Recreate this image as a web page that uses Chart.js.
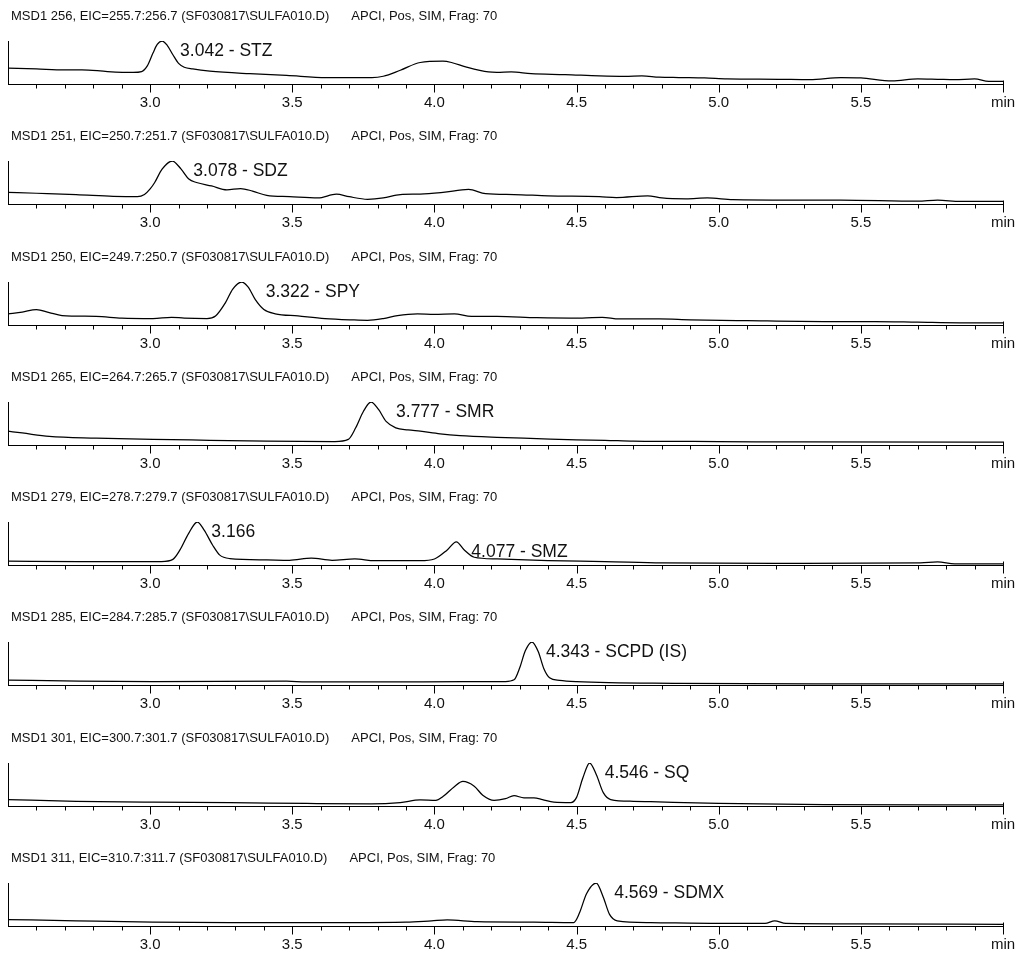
<!DOCTYPE html>
<html>
<head>
<meta charset="utf-8">
<title>SIM extracted ion chromatograms - sulfonamides</title>
<script src="https://cdn.jsdelivr.net/npm/chart.js@4.4.1/dist/chart.umd.min.js"></script>
<style>
  html, body { margin: 0; padding: 0; background: #fff; overflow: hidden; }
  #stack { position: relative; width: 1019px; height: 962px; }
  .trace { position: absolute; left: 0; width: 1019px; height: 122px; }
</style>
</head>
<body>
<div id="stack"></div>
<script>
// ---- run / axis description ----
const runFile = 'SF030817\\SULFA010.D';
const acqInfo = 'APCI, Pos, SIM, Frag: 70';
const ionMz = [256, 251, 250, 265, 279, 285, 301, 311];
const timeMin = 2.5;
const timeMax = 6.0;
const tickStep = 0.1;
const majorTimes = [3.0, 3.5, 4.0, 4.5, 5.0, 5.5];
const timeUnit = 'min';

// ---- extracted ion traces: retention time (min) / signal (% of full scale) ----
const stzTime = [2.50,2.60,2.70,2.76,2.85,2.94,2.97,2.99,3.01,3.025,3.042,3.06,3.08,3.10,3.12,3.15,3.21,3.35,3.48,3.62,3.78,3.82,3.88,3.95,4.03,4.06,4.11,4.19,4.22,4.27,4.34,4.46,4.58,4.67,4.73,4.79,4.86,4.95,5.03,5.21,5.32,5.43,5.50,5.61,5.70,5.77,5.83,5.90,5.95,6.00];
const stzSignal = [37,35,33,33,29,27,29,42,72,92,100,90,68,48,39,35,30,24,20,15,15,18,32,50,53,50,40,28,27,28,24,22,19,18,19,16,15,14,12,11,10,15,14,7,12,11,10,12,6,6];

const sdzTime = [2.50,2.60,2.74,2.87,2.955,2.98,3.00,3.016,3.042,3.078,3.109,3.136,3.163,3.216,3.27,3.318,3.36,3.41,3.49,3.59,3.655,3.70,3.765,3.82,3.88,3.95,4.03,4.12,4.18,4.28,4.40,4.58,4.64,4.75,4.80,4.885,4.96,5.05,5.25,5.43,5.70,5.77,5.85,6.00];
const sdzSignal = [27,25,22,18,17,22,35,50,81,100,81,58,50,42,33,36,30,20,17,14,23,17,11,14,22,23,27,34,24,22,19,17,15,19,14,12,14,10,9,9,6.5,9,6,6];

const spyTime = [2.50,2.55,2.60,2.645,2.69,2.81,2.90,3.01,3.075,3.12,3.20,3.23,3.265,3.29,3.322,3.345,3.37,3.40,3.44,3.52,3.615,3.71,3.765,3.82,3.87,3.94,4.00,4.07,4.13,4.22,4.36,4.52,4.59,4.65,4.79,4.90,5.10,5.37,5.55,5.70,5.85,6.00];
const spySignal = [26,30,36,29,22,20,16,15,18,16,15,21,52,83,100,88,59,36,26,21,15,12,11,15,22,26,25,26,20,20,17,16,18,14,14,12,10,8,8,6.5,5,5];

const smrTime = [2.50,2.55,2.645,2.81,3.01,3.21,3.41,3.65,3.697,3.723,3.75,3.777,3.804,3.83,3.864,3.907,3.95,4.02,4.09,4.22,4.36,4.50,4.60,4.70,5.00,5.30,6.00];
const smrSignal = [32,28,20,16,13,11,9,8,13,40,78,100,82,55,40,35,32,26,22,18,15,12,11,9,8,7,6.5];

const smzTime = [2.50,2.75,3.04,3.08,3.105,3.135,3.166,3.19,3.22,3.245,3.28,3.41,3.49,3.567,3.64,3.72,3.79,3.95,4.00,4.045,4.077,4.105,4.14,4.22,4.40,4.60,4.80,5.30,5.71,5.77,5.83,6.00];
const smzSignal = [9,8,8,13,35,73,100,81,46,23,15,12,11,16,11,14,10,10,14,35,54,35,18,14,10,8,5,4,5,7,2.5,2.5];

const scpdTime = [2.50,2.75,3.01,3.48,3.55,3.82,4.10,4.25,4.28,4.30,4.32,4.343,4.365,4.385,4.405,4.44,4.50,4.86,5.37,6.00];
const scpdSignal = [11.5,9,8,9,7,7,8,8,12,40,80,100,78,38,17,11,8,4,2.5,2.5];

const sqTime = [2.50,2.74,3.01,3.28,3.55,3.777,3.88,3.95,4.005,4.03,4.07,4.10,4.14,4.17,4.21,4.25,4.28,4.315,4.35,4.38,4.42,4.48,4.50,4.522,4.546,4.57,4.594,4.62,4.70,4.76,5.00,5.37,6.00];
const sqSignal = [15,11,9,8,6,5,8,14,13,22,45,57,46,25,13,17,24,19,19,15,9,8,20,65,100,72,31,15,11,10,6,3,2.5];

const sdmxTime = [2.50,2.74,3.01,3.28,3.70,3.90,3.99,4.045,4.15,4.35,4.49,4.51,4.535,4.569,4.594,4.616,4.643,4.76,5.00,5.163,5.197,5.236,5.50,6.00];
const sdmxSignal = [15,12,9,8,8,9,12,14,10,9,8,30,75,100,67,27,12,8,6,6,12,6,5,4];

// ---- integrated peaks per trace ----
const peakTimes = [[3.042], [3.078], [3.322], [3.777], [3.166, 4.077], [4.343], [4.546], [4.569]];
const peakNames = [['STZ'], ['SDZ'], ['SPY'], ['SMR'], [null, 'SMZ'], ['SCPD (IS)'], ['SQ'], ['SDMX']];

// ---- layout ----
const traceTimes = [stzTime, sdzTime, spyTime, smrTime, smzTime, scpdTime, sqTime, sdmxTime];
const traceSignals = [stzSignal, sdzSignal, spySignal, smrSignal, smzSignal, scpdSignal, sqSignal, sdmxSignal];
const labelGap = [[18], [21], [24], [25], [14, 15], [14], [15], [18]];   // px right of apex
const panelPitch = 120.25;
const FONT = '"Liberation Sans", Arial, Helvetica, sans-serif';
const INK = '#111';

const near = (a, b) => Math.abs(a - b) < 1e-6;
const isMajor = v => majorTimes.some(m => near(m, v));

// tick marks, header line and peak annotations
const chromOverlay = {
  id: 'chromOverlay',
  afterDraw(chart, args, opts) {
    const { ctx, scales: { x, y } } = chart;
    const axisY = Math.round(x.top) + 0.5;
    ctx.save();
    ctx.strokeStyle = '#000';
    ctx.lineWidth = 1;
    ctx.beginPath();
    x.ticks.forEach(t => {
      const v = t.value;
      if (v <= timeMin + 1e-6) return;
      const px = Math.round(x.getPixelForValue(v)) + 0.5;
      const last = v >= timeMax - 1e-6;
      const long = last || isMajor(v);
      ctx.moveTo(px, last ? axisY - 4 : axisY);
      ctx.lineTo(px, axisY + (long ? 8 : 4));
    });
    ctx.stroke();

    ctx.fillStyle = INK;
    ctx.textAlign = 'left';
    ctx.textBaseline = 'alphabetic';
    ctx.font = `13px ${FONT}`;
    ctx.fillText(opts.header, 11, 20);
    const w = ctx.measureText(opts.header).width;
    ctx.fillText(acqInfo, 11 + w + 22, 20);

    ctx.font = `17.5px ${FONT}`;
    opts.peaks.forEach(p => {
      const px = x.getPixelForValue(p.rt);
      const py = y.getPixelForValue(p.apex);
      ctx.fillText(p.text, px + p.gap, py + 15);
    });
    ctx.restore();
  }
};

const stack = document.getElementById('stack');

ionMz.forEach((mz, k) => {
  const times = traceTimes[k];
  const signal = traceSignals[k];
  const header = `MSD1 ${mz}, EIC=${(mz - 0.3).toFixed(1)}:${(mz + 0.7).toFixed(1)} (${runFile})`;
  const peaks = peakTimes[k].map((rt, j) => {
    const idx = times.findIndex(t => near(t, rt));
    const name = peakNames[k][j];
    return {
      rt,
      apex: signal[idx],
      gap: labelGap[k][j],
      text: rt.toFixed(3) + (name ? ' - ' + name : '')
    };
  });

  const holder = document.createElement('div');
  holder.className = 'trace';
  holder.style.top = Math.round(k * panelPitch) + 'px';
  const canvas = document.createElement('canvas');
  canvas.width = 1019;
  canvas.height = 122;
  canvas.style.width = '1019px';
  canvas.style.height = '122px';
  holder.appendChild(canvas);
  stack.appendChild(holder);

  new Chart(canvas, {
    type: 'line',
    data: {
      datasets: [{
        data: times.map((t, i) => ({ x: t, y: signal[i] })),
        borderColor: '#000',
        borderWidth: 1.25,
        pointRadius: 0,
        fill: false,
        cubicInterpolationMode: 'monotone'
      }]
    },
    options: {
      responsive: false,
      animation: false,
      events: [],
      layout: { padding: { left: 8, right: 16, top: 41, bottom: 0.5 } },
      plugins: {
        legend: { display: false },
        tooltip: { enabled: false },
        title: { display: false },
        chromOverlay: { header, peaks }
      },
      scales: {
        x: {
          type: 'linear',
          min: timeMin,
          max: timeMax,
          grid: { display: false, drawTicks: false },
          border: { display: true, color: '#000', width: 1 },
          ticks: {
            stepSize: tickStep,
            autoSkip: false,
            maxRotation: 0,
            minRotation: 0,
            padding: 0,
            color: INK,
            font: { family: FONT, size: 15, lineHeight: 2.5 },
            callback: v => {
              if (near(v, timeMax)) return timeUnit;
              return isMajor(v) ? Number(v).toFixed(1) : '';
            }
          }
        },
        y: {
          min: 0,
          max: 100,
          grid: { display: false, drawTicks: false },
          ticks: { display: false },
          border: { display: true, color: '#000', width: 1 }
        }
      }
    },
    plugins: [chromOverlay]
  });
});
</script>
</body>
</html>
